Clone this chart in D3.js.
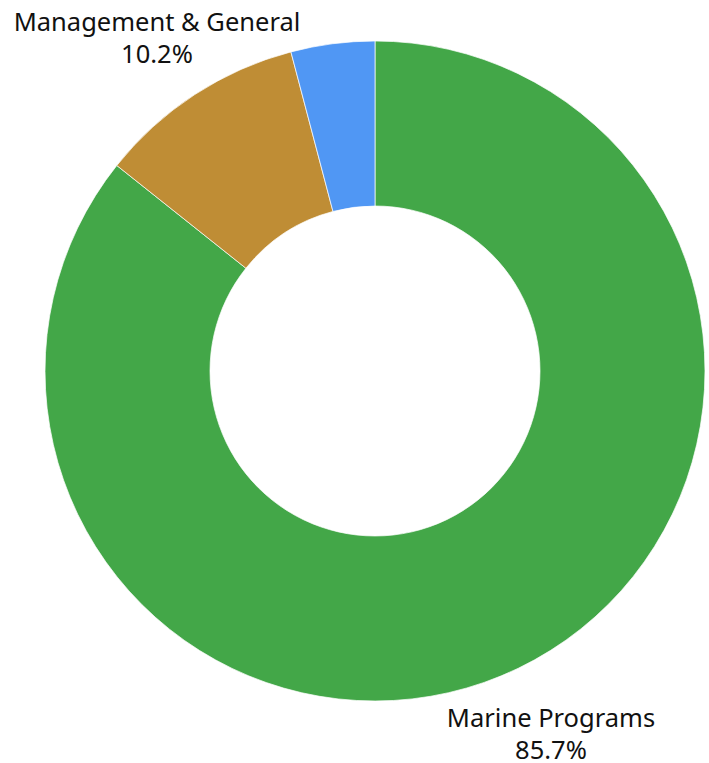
<!DOCTYPE html>
<html><head><meta charset="utf-8">
<script src="https://cdn.jsdelivr.net/npm/d3@7"></script>
<style>html,body{margin:0;padding:0;background:#fff;}</style>
</head><body>
<svg id="c" width="709" height="763"></svg>
<script>
const categories = ["Marine Programs", "Management & General", "Fundraising"];
const values = [85.7, 10.2, 4.1];
const colors = ["#43A748", "#BF8D35", "#5097F4"];
const labelPos = [[551, 727], [157, 31], null];

const svg = d3.select("#c");
const cx = 375, cy = 371, R = 330, r = 165;
const data = categories.map((c, i) => ({name: c, value: values[i], color: colors[i], lp: labelPos[i]}));
const pie = d3.pie().value(d => d.value).sort(null);
const arc = d3.arc().innerRadius(r).outerRadius(R);
const g = svg.append("g").attr("transform", `translate(${cx},${cy})`);
g.selectAll("path").data(pie(data)).join("path")
  .attr("d", arc).attr("fill", d => d.data.color)
  .attr("stroke", "#fff").attr("stroke-width", 0.7);

const lab = svg.selectAll("text.l").data(data.filter(d => d.lp)).join("text")
  .attr("class", "l")
  .attr("text-anchor", "middle")
  .attr("font-family", "'Noto Sans', sans-serif")
  .attr("font-size", 25.5)
  .attr("fill", "#111");
lab.append("tspan").attr("x", d => d.lp[0]).attr("y", d => d.lp[1]).text(d => d.name);
lab.append("tspan").attr("x", d => d.lp[0]).attr("y", d => d.lp[1] + 32).text(d => d.value.toFixed(1) + "%");
</script>
</body></html>
